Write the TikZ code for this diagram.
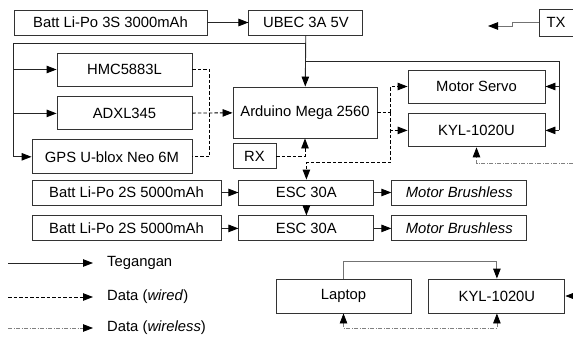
\documentclass[tikz,border=0pt]{standalone}
\usepackage{fontspec}
\setmainfont{Liberation Sans}
\usetikzlibrary{shapes,arrows.meta,positioning,calc}
\tikzset{
  block/.style = {
    rectangle,
    draw=black!80,
    line width=0.9pt,
    font=\fontsize{14.8pt}{17pt}\selectfont,
    minimum height=25pt,
    inner sep=0pt,
    text centered
  },
  pwr_line/.style = {
    line width=0.9pt,
    draw=black!85
  },
  pwr_arrow/.style = {
    pwr_line,
    -{Triangle[length=10pt,width=7.5pt,color=black]}
  },
  gray_arrow/.style = {
    line width=0.9pt,
    draw=black!55,
    -{Triangle[length=10pt,width=7.5pt,color=black]}
  },
  data_line/.style = {
    line width=0.9pt,
    dash pattern=on 3.5pt off 2pt
  },
  data_arrow/.style = {
    data_line,
    -{Triangle[length=10pt,width=7.5pt]}
  },
  wireless_arrow/.style = {
    line width=0.8pt,
    draw=black!50,
    dash pattern=on 4pt off 1.5pt on 1pt off 1.5pt,
    -{Triangle[length=10pt,width=7.5pt,color=black]}
  },
  legend/.style = {
    anchor=west,
    inner sep=0pt,
    font=\fontsize{14.8pt}{17pt}\selectfont
  }
}

\begin{document}
\begin{tikzpicture}[x=1pt,y=-1pt]
\useasboundingbox (0,0) rectangle (573,337);

% Catu daya utama
\node[block, minimum width=193pt] (batta) at (110.5,22.5) {Batt Li-Po 3S 3000mAh};
\node[block, minimum width=114pt, right=41pt of batta] (ubec) {UBEC 3A 5V};

% Pemancar remote
\node[block, minimum width=34pt, minimum height=27pt] (tx) at (556,22.5) {TX};

% Sensor
\node[block, minimum width=135pt, minimum height=33pt] (hmc) at (124.5,69.5) {HMC5883L};
\node[block, minimum width=135pt, minimum height=33pt, below=10pt of hmc] (adxl) {ADXL345};
\node[block, minimum width=160pt, minimum height=34pt, below=9pt of adxl.south east, anchor=north east] (gps) {GPS U-blox Neo 6M};

% Kontroler
\node[block, minimum width=144pt, minimum height=51pt] (mega) at (305,112.5) {Arduino Mega 2560};
\node[block, minimum width=43pt, below=5pt of mega.south west, anchor=north west] (rx) {RX};

% Aktuator dan telemetri
\node[block, minimum width=137pt, minimum height=33pt] (servo) at (476.5,86.5) {Motor Servo};
\node[block, minimum width=137pt, minimum height=33pt, below=10pt of servo] (kyla) {KYL-1020U};

% Penggerak
\node[block, minimum width=189pt] (battb) at (126.5,192.5) {Batt Li-Po 2S 5000mAh};
\node[block, minimum width=135pt, right=17pt of battb] (esca) {ESC 30A};
\node[block, minimum width=135pt, right=17pt of esca] (mba) {\textit{Motor Brushless}};
\node[block, minimum width=189pt, below=10pt of battb] (battc) {Batt Li-Po 2S 5000mAh};
\node[block, minimum width=135pt, right=17pt of battc] (escb) {ESC 30A};
\node[block, minimum width=135pt, right=17pt of escb] (mbb) {\textit{Motor Brushless}};

% Ground station
\node[block, minimum width=135pt, minimum height=34pt] (laptop) at (343.5,296) {Laptop};
\node[block, minimum width=136pt, minimum height=34pt, right=17pt of laptop] (kylb) {KYL-1020U};

% Koordinat bantu
\coordinate (busl) at ($(ubec.south)+(0,8)$);
\coordinate (busr) at ($(ubec.south)+(0,26)$);
\coordinate (busx) at ($(servo.east)+(14,0)$);
\coordinate (txout) at (488,26);
\coordinate (dsplit) at ($(mega.east)+(13,0)$);
\coordinate (descin) at ($(esca.north)+(0,-17)$);
\coordinate (wltop) at (573,163);
\coordinate (wlbot) at (573,296);
\coordinate (lktop) at ($(laptop.north)+(0,-17)$);
\coordinate (lkbot) at ($(laptop.south)+(0,15)$);

% Tegangan
\draw[pwr_arrow] (batta) -- (ubec);
\draw[pwr_arrow] (ubec) -- (mega);
\draw[pwr_arrow] (busl) -| (batta.west |- gps) -- (gps);
\draw[pwr_arrow] (batta.west |- hmc) -- (hmc);
\draw[pwr_arrow] (batta.west |- adxl) -- (adxl);
\draw[pwr_line] (busr) -| (busx |- kyla);
\draw[pwr_arrow] (busx |- servo) -- (servo);
\draw[pwr_arrow] (busx |- kyla) -- (kyla);
\draw[pwr_arrow] (battb) -- (esca);
\draw[pwr_arrow] (esca) -- (mba);
\draw[pwr_arrow] (battc) -- (escb);
\draw[pwr_arrow] (escb) -- (mbb);
\draw[gray_arrow] (tx.west) -- ++(-26,0) |- (txout);
\draw[gray_arrow] (laptop) -- (lktop) -| (kylb);

% Data (wired)
\draw[data_line] (hmc.east) -- ++(17,0) |- (gps.east);
\draw[data_arrow] (adxl) -- (mega);
\draw[data_arrow] (rx) -| (mega);
\draw[data_line] (mega) -- (dsplit);
\draw[data_arrow] (dsplit) |- (servo);
\draw[data_arrow] (dsplit) |- (kyla);
\draw[data_arrow] (dsplit) |- (descin) -- (esca);
\draw[data_arrow] (esca) -- (escb);

% Data (wireless)
\draw[wireless_arrow] (wltop) -| (kyla);
\draw[wireless_arrow] (wlbot) -- (kylb);
\draw[wireless_arrow, {Triangle[length=10pt,width=7.5pt,color=black]}-{Triangle[length=10pt,width=7.5pt,color=black]}] (laptop) -- (lkbot) -| (kylb);

% Keterangan
\coordinate (lg1) at (8,263);
\coordinate (lg2) at (8,297);
\coordinate (lg3) at (8,328);
\node[legend] (lgpwr) at (107,263) {Tegangan};
\node[legend] (lgwired) at (107,297) {Data (\textit{wired})};
\node[legend] (lgwless) at (107,328) {Data (\textit{wireless})};
\draw[pwr_arrow, shorten >=14pt] (lg1) -- (lgpwr.west);
\draw[data_arrow, shorten >=14pt] (lg2) -- (lgwired.west);
\draw[wireless_arrow, shorten >=14pt] (lg3) -- (lgwless.west);

\end{tikzpicture}
\end{document}
